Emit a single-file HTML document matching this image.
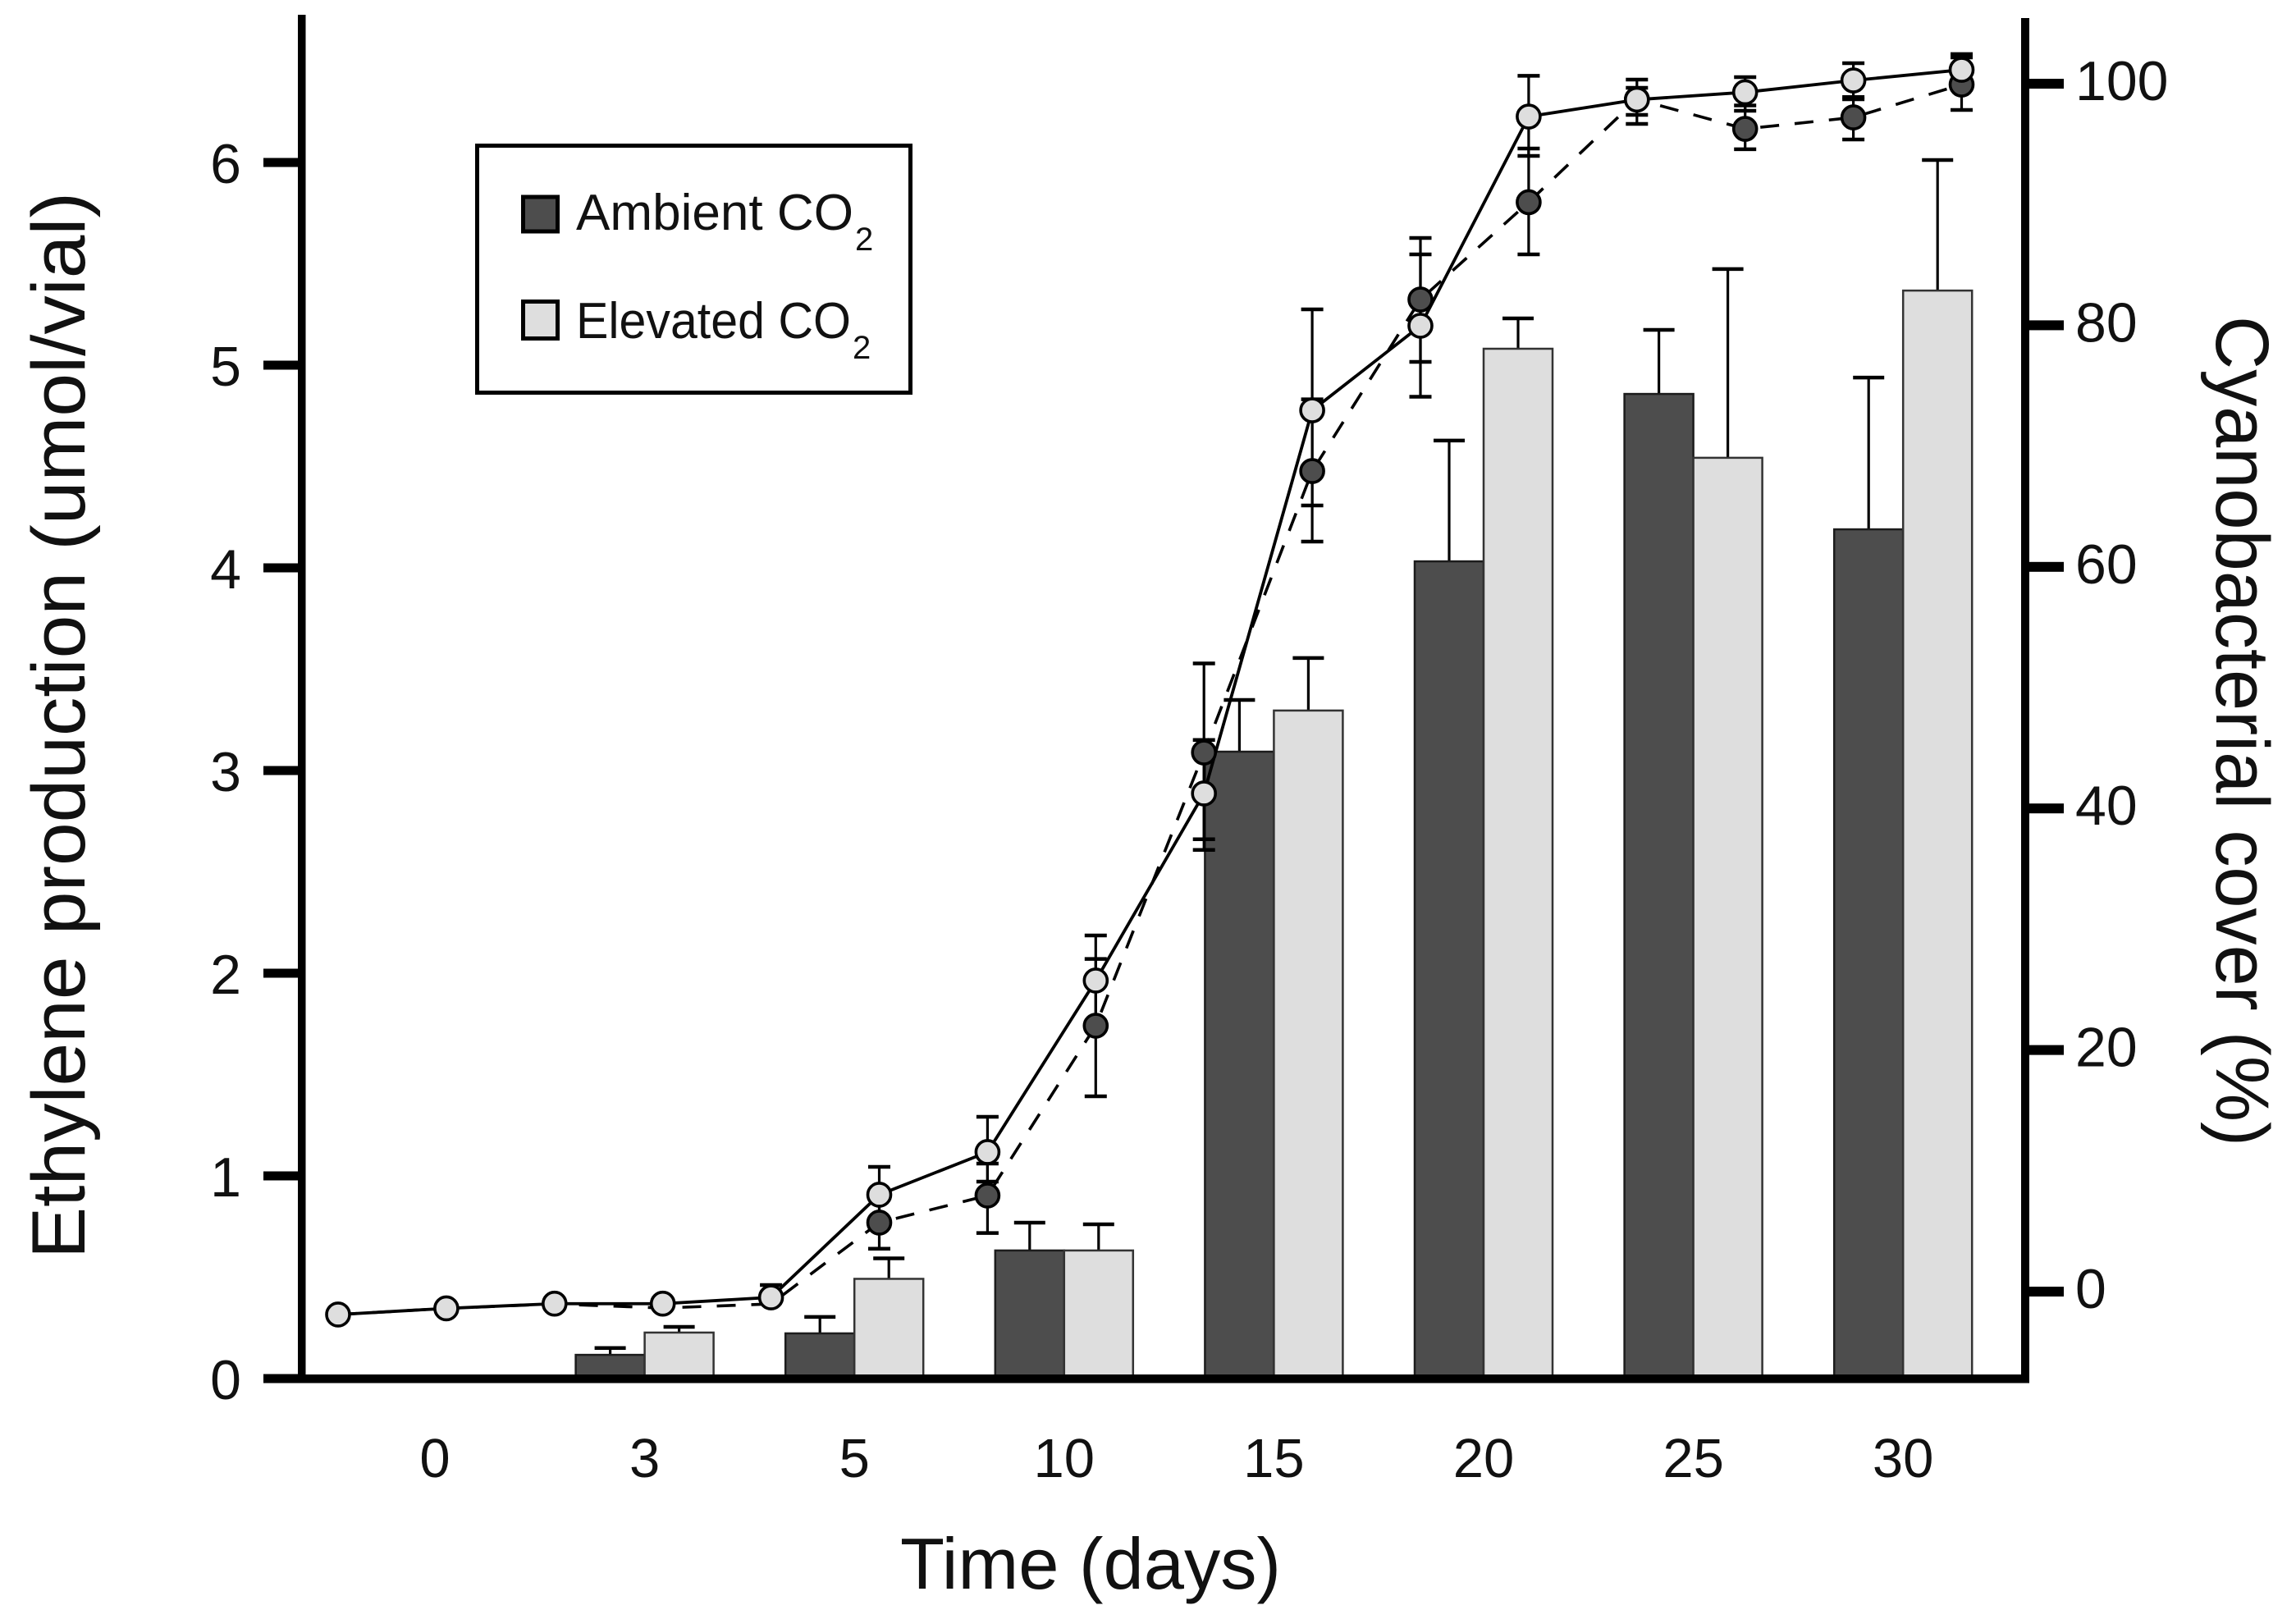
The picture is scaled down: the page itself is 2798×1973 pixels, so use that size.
<!DOCTYPE html>
<html lang="en">
<head>
<meta charset="utf-8">
<title>Ethylene production and cyanobacterial cover over time</title>
<style>
  html, body { margin: 0; padding: 0; background: #ffffff; }
  svg { display: block; }
  text { font-family: "Liberation Sans", sans-serif; fill: #111111; }
</style>
</head>
<body>
<svg id="chart" xmlns="http://www.w3.org/2000/svg" width="2798" height="1973" viewBox="0 0 2798 1973">
  <rect x="0" y="0" width="2798" height="1973" fill="#ffffff"/>
  <g id="bars"></g>
  <g id="axes">
    <rect x="363" y="18" width="9.5" height="1667" fill="#000"/>
    <rect x="2463" y="22" width="10" height="1663" fill="#000"/>
    <rect x="321" y="1675" width="2152" height="10.5" fill="#000"/>
  </g>
  <g id="ticks"></g>
  <g id="lines"></g>
  <text x="1097" y="1936" font-size="88" textLength="464" lengthAdjust="spacingAndGlyphs">Time (days)</text>
  <text transform="translate(103,1534) rotate(-90)" font-size="92" textLength="1300" lengthAdjust="spacingAndGlyphs">Ethylene production (umol/vial)</text>
  <text transform="translate(2701,385) rotate(90)" font-size="92" textLength="1012" lengthAdjust="spacingAndGlyphs">Cyanobacterial cover (%)</text>
  <g>
    <rect x="581.5" y="177.5" width="528" height="301" fill="#ffffff" stroke="#000" stroke-width="5"/>
    <rect x="637.5" y="240" width="42" height="42" fill="#4d4d4d" stroke="#000" stroke-width="5"/>
    <text x="702" y="280" font-size="62" textLength="338" lengthAdjust="spacingAndGlyphs">Ambient CO</text>
    <text x="1042" y="305" font-size="40">2</text>
    <rect x="637.5" y="367.5" width="42" height="45" fill="#dedede" stroke="#000" stroke-width="5"/>
    <text x="702" y="412" font-size="62" textLength="335" lengthAdjust="spacingAndGlyphs">Elevated CO</text>
    <text x="1039" y="437" font-size="40">2</text>
  </g>
</svg>
<script>
// Bar categories and values (left axis, umol/vial)
const dayLabels = ['0', '3', '5', '10', '15', '20', '25', '30'];
const ambientBars = [0, 0.117, 0.223, 0.632, 3.093, 4.032, 4.858, 4.19];
const elevatedBars = [0, 0.227, 0.492, 0.632, 3.296, 5.081, 4.543, 5.368];
const ambientBarErrTop = [0, 0.151, 0.304, 0.769, 3.348, 4.628, 5.174, 4.939];
const elevatedBarErrTop = [0, 0.255, 0.593, 0.761, 3.555, 5.231, 5.474, 6.012];

// Line series (right axis, % cover), one entry per sampling point
const ambientCover = [-1.9, -1.39, -1.02, -1.36, -1.02, 5.71, 7.95, 22.01, 44.63, 67.93, 82.13, 90.19, 98.71, 96.26, 97.21, 99.93];
const elevatedCover = [-1.9, -1.39, -1.0, -1.0, -0.48, 8.02, 11.55, 25.75, 41.24, 72.96, 79.96, 97.28, 98.68, 99.29, 100.27, 101.15];
const ambientCoverHigh = [null, null, null, null, null, 7.88, 10.6, 27.54, 52.0, 73.87, 87.23, 94.63, 99.66, 98.2, 98.9, 102.17];
const ambientCoverLow = [null, null, null, null, null, 3.55, 4.85, 16.17, 37.45, 62.09, 76.97, 85.87, 96.67, 94.57, 95.38, 97.83];
const elevatedCoverHigh = [null, null, null, null, 0.54, 10.33, 14.47, 29.48, 45.67, 81.32, 85.87, 100.65, 100.34, 100.54, 101.7, 102.45];
const elevatedCoverLow = [null, null, null, null, null, 5.71, 9.1, 22.0, 36.57, 65.08, 74.08, 94.02, 97.42, 97.76, 98.71, 99.86];
const ambientMarkerStart = 5;

// Tick labels
const leftTicks = [0, 1, 2, 3, 4, 5, 6];
const rightTicks = [0, 20, 40, 60, 80, 100];

// Axis functions
function yLeft(v) { return 1680 - 247 * v; }
function yRight(v) { return 1574 - 14.72 * v; }
function xBand(i) { return 530 + 255.6 * i; }
function xPoint(i) { return 412 + 131.9 * i; }

const NS = 'http://www.w3.org/2000/svg';
const barWidth = 84;
const barsG = document.getElementById('bars');
const ticksG = document.getElementById('ticks');
const linesG = document.getElementById('lines');

function mk(tag, attrs, parent) {
  const node = document.createElementNS(NS, tag);
  for (const k in attrs) node.setAttribute(k, attrs[k]);
  parent.appendChild(node);
  return node;
}

function barErr(x, top, base, capWidth) {
  const g = mk('g', { stroke: '#000' }, barsG);
  
  
  mk('line', { x1: x, x2: x, y1: top, y2: base, 'stroke-width': 3.2 }, g);
  mk('line', { x1: x - capWidth / 2, x2: x + capWidth / 2, y1: top, y2: top, 'stroke-width': 4.5 }, g);
}

// Bars
dayLabels.forEach(function (label, i) {
  const c = xBand(i);
  if (ambientBars[i] > 0) {
    barErr(c - barWidth / 2, yLeft(ambientBarErrTop[i]), yLeft(ambientBars[i]), 38);
    const a = mk('rect', { x: c - barWidth, y: yLeft(ambientBars[i]), width: barWidth, height: yLeft(0) - yLeft(ambientBars[i]), fill: '#4d4d4d', stroke: '#1c1c1c', 'stroke-width': 2.5 }, barsG);
    
    
  }
  if (elevatedBars[i] > 0) {
    barErr(c + barWidth / 2, yLeft(elevatedBarErrTop[i]), yLeft(elevatedBars[i]), 38);
    const b = mk('rect', { x: c, y: yLeft(elevatedBars[i]), width: barWidth, height: yLeft(0) - yLeft(elevatedBars[i]), fill: '#dedede', stroke: '#333333', 'stroke-width': 2.5 }, barsG);
    
    
  }
  const t = mk('text', { x: c, y: 1800, 'font-size': 67, 'text-anchor': 'middle' }, ticksG);
  t.textContent = label;
  
  
});

// Left axis ticks
leftTicks.forEach(function (v) {
  const y = yLeft(v);
  const r = mk('rect', { x: 321, y: y - 5.5, width: 42, height: 11, fill: '#000' }, ticksG);
  
  
  const t = mk('text', { x: 294, y: y + 25, 'font-size': 68, 'text-anchor': 'end' }, ticksG);
  t.textContent = String(v);
  
  
});

// Right axis ticks
rightTicks.forEach(function (v) {
  const y = yRight(v);
  const r = mk('rect', { x: 2473, y: y - 6, width: 42, height: 12, fill: '#000' }, ticksG);
  
  
  const t = mk('text', { x: 2529, y: y + 20, 'font-size': 68 }, ticksG);
  t.textContent = String(v);
  
  
});

function pointErr(i, high, low, name) {
  const x = xPoint(i);
  const g = mk('g', { stroke: '#000' }, linesG);
  
  
  const hi = high[i] === null ? null : yRight(high[i]);
  const lo = low[i] === null ? null : yRight(low[i]);
  const mid = yRight(name === 'ambient-cover' ? ambientCover[i] : elevatedCover[i]);
  mk('line', { x1: x, x2: x, y1: hi === null ? mid : hi, y2: lo === null ? mid : lo, 'stroke-width': 3.2 }, g);
  [hi, lo].forEach(function (y) {
    if (y !== null) mk('line', { x1: x - 13.5, x2: x + 13.5, y1: y, y2: y, 'stroke-width': 4.5 }, g);
  });
}

ambientCover.forEach(function (v, i) {
  if (ambientCoverHigh[i] !== null || ambientCoverLow[i] !== null) pointErr(i, ambientCoverHigh, ambientCoverLow, 'ambient-cover');
  if (elevatedCoverHigh[i] !== null || elevatedCoverLow[i] !== null) pointErr(i, elevatedCoverHigh, elevatedCoverLow, 'elevated-cover');
});

function pts(series) {
  return series.map(function (v, i) { return xPoint(i) + ',' + yRight(v); }).join(' ');
}

const ambientLine = mk('polyline', { points: pts(ambientCover), fill: 'none', stroke: '#000', 'stroke-width': 3.6, 'stroke-dasharray': '23 19' }, linesG);



const elevatedLine = mk('polyline', { points: pts(elevatedCover), fill: 'none', stroke: '#000', 'stroke-width': 3.8 }, linesG);



ambientCover.forEach(function (v, i) {
  if (i < ambientMarkerStart) return;
  const p = mk('circle', { cx: xPoint(i), cy: yRight(v), r: 14, fill: '#4d4d4d', stroke: '#000', 'stroke-width': 3.6 }, linesG);
  
  
});

elevatedCover.forEach(function (v, i) {
  const p = mk('circle', { cx: xPoint(i), cy: yRight(v), r: 14, fill: '#dedede', stroke: '#000', 'stroke-width': 3.6 }, linesG);
  
  
});
</script>
</body>
</html>
